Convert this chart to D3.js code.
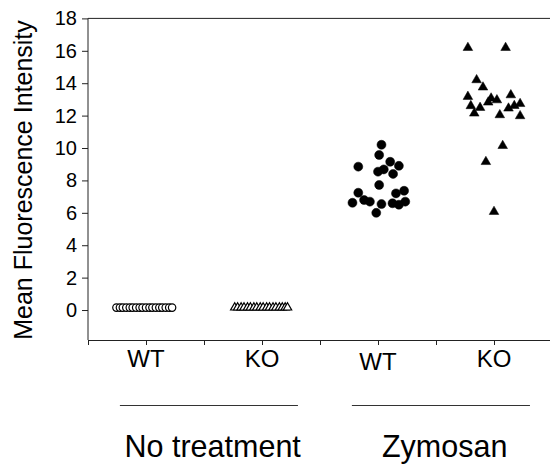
<!DOCTYPE html>
<html>
<head>
<meta charset="utf-8">
<script src="https://cdn.jsdelivr.net/npm/d3@7"></script>
<style>
  body { margin: 0; background: #fff; }
  svg text { font-family: Arial, 'Liberation Sans', Helvetica, sans-serif; fill: #000; }
</style>
</head>
<body>
<svg id="chart" width="550" height="464"></svg>
<script>
// Groups and the categories inside them (category index on the x axis)
var groups = ['No treatment', 'Zymosan'];
var categories = ['WT', 'KO', 'WT', 'KO'];
var categoryPos = [1, 3, 5, 7];
var yTicks = [0, 2, 4, 6, 8, 10, 12, 14, 16, 18];

// No treatment WT (open circles), value and horizontal jitter
var ntWtValues = [0.15, 0.15, 0.15, 0.15, 0.15, 0.15, 0.15, 0.15, 0.15, 0.15, 0.15, 0.15, 0.15, 0.15, 0.15, 0.15, 0.15, 0.15];
var ntWtJitter = [-0.51, -0.45, -0.40, -0.34, -0.28, -0.23, -0.17, -0.11, -0.06, 0.00, 0.06, 0.11, 0.17, 0.23, 0.28, 0.34, 0.40, 0.45];

// No treatment KO (open triangles)
var ntKoValues = [0.15, 0.15, 0.15, 0.15, 0.15, 0.15, 0.15, 0.15, 0.15, 0.15, 0.15, 0.15, 0.15, 0.15, 0.15, 0.15, 0.15, 0.15];
var ntKoJitter = [-0.47, -0.42, -0.36, -0.31, -0.25, -0.20, -0.14, -0.09, -0.03, 0.02, 0.08, 0.13, 0.19, 0.24, 0.30, 0.35, 0.40, 0.44];

// Zymosan WT (filled circles)
var zyWtValues = [10.2, 9.57, 8.85, 9.15, 8.9, 8.54, 8.68, 8.4, 7.72, 7.24, 7.36, 7.2, 6.62, 6.79, 6.69, 6.54, 6.59, 6.5, 6.69, 6.0];
var zyWtJitter = [0.06, 0.02, -0.34, 0.21, 0.36, 0.00, 0.10, 0.26, 0.02, -0.34, 0.45, 0.31, -0.44, -0.24, -0.14, 0.06, 0.25, 0.36, 0.47, -0.03];

// Zymosan KO (filled triangles)
var zyKoValues = [16.19, 16.19, 14.2, 13.75, 13.17, 12.6, 12.49, 12.14, 13.07, 12.82, 12.96, 13.27, 12.04, 12.45, 12.61, 12.73, 11.98, 10.14, 9.15, 6.07];
var zyKoJitter = [-0.45, 0.20, -0.30, -0.19, -0.45, -0.40, -0.24, -0.34, -0.05, -0.10, 0.05, 0.29, 0.10, 0.25, 0.35, 0.45, 0.45, 0.15, -0.14, 0.00];

var svg = d3.select('#chart');
var axisColor = '#222';

// Scales
var x = d3.scaleLinear().domain([0, 8]).range([88, 552]);
var y = d3.scaleLinear().domain([-1.85, 18]).range([340, 18.4]);

// Build point lists
function points(values, jitter, pos) {
	return values.map(function(v, i) { return {x: pos + jitter[i], y: v}; });
}
var series = [
	{pts: points(ntWtValues, ntWtJitter, categoryPos[0]), shape: 'circle', filled: false},
	{pts: points(ntKoValues, ntKoJitter, categoryPos[1]), shape: 'triangle', filled: false},
	{pts: points(zyWtValues, zyWtJitter, categoryPos[2]), shape: 'circle', filled: true},
	{pts: points(zyKoValues, zyKoJitter, categoryPos[3]), shape: 'triangle', filled: true}
];

// Left axis
var yAxis = svg.append('g')
	.attr('transform', 'translate(' + x(0) + ',0)')
	.call(d3.axisLeft(y).tickValues(yTicks).tickSize(6).tickPadding(5).tickSizeOuter(0));
yAxis.select('.domain').remove();
yAxis.selectAll('line').attr('stroke', axisColor);
yAxis.selectAll('text').style('font-size', '20px').attr('fill', '#000');

// Bottom axis
var xAxis = svg.append('g')
	.attr('transform', 'translate(0,' + y(-1.85) + ')')
	.call(d3.axisBottom(x).ticks(8).tickSize(5).tickSizeOuter(0).tickFormat(''));
xAxis.select('.domain').attr('stroke', axisColor);
xAxis.selectAll('line').attr('stroke', axisColor);

// Frame lines: left and top
svg.append('line')
	.attr('x1', x(0)).attr('x2', x(0))
	.attr('y1', y(18)).attr('y2', y(-1.85))
	.attr('stroke', axisColor);
svg.append('line')
	.attr('x1', x(0)).attr('x2', x(8))
	.attr('y1', y(18)).attr('y2', y(18))
	.attr('stroke', axisColor);

// Markers
var triangle = d3.symbol().type(d3.symbolTriangle);
series.forEach(function(s) {
	var g = svg.append('g');
	var fill = s.filled ? '#000' : '#fff';
	if (s.shape === 'circle') {
		g.selectAll('circle')
			.data(s.pts)
			.enter().append('circle')
			.attr('cx', function(d) { return x(d.x); })
			.attr('cy', function(d) { return y(d.y); })
			.attr('r', s.filled ? 4.5 : 3.7)
			.attr('fill', fill)
			.attr('stroke', '#000')
			.attr('stroke-width', s.filled ? 0.5 : 1.2);
	} else {
		g.selectAll('path')
			.data(s.pts)
			.enter().append('path')
			.attr('transform', function(d) { return 'translate(' + x(d.x) + ',' + y(d.y) + ')'; })
			.attr('d', triangle.size(s.filled ? 40 : 30)())
			.attr('fill', fill)
			.attr('stroke', '#000')
			.attr('stroke-width', s.filled ? 0.5 : 1.2);
	}
});

// Category labels under the axis
svg.selectAll('.catLabel')
	.data(categories)
	.enter().append('text')
	.attr('class', 'catLabel')
	.attr('x', function(d, i) { return x(categoryPos[i]); })
	.attr('y', function(d, i) { return i === 2 ? 370 : 367; })
	.attr('text-anchor', 'middle')
	.style('font-size', '24px')
	.text(function(d) { return d; });

// Group underlines and labels
groups.forEach(function(name, i) {
	var c = (categoryPos[i * 2] + categoryPos[i * 2 + 1]) / 2;
	svg.append('line')
		.attr('x1', x(c - 1.45)).attr('x2', x(c + 1.62))
		.attr('y1', 405.5).attr('y2', 405.5)
		.attr('stroke', '#333');
	svg.append('text')
		.attr('x', x(c + 0.15))
		.attr('y', 457)
		.attr('text-anchor', 'middle')
		.style('font-size', '30.5px')
		.text(name);
});

// Y axis title
svg.append('text')
	.attr('transform', 'translate(32,180) rotate(-90)')
	.attr('text-anchor', 'middle')
	.style('font-size', '25px')
	.text('Mean Fluorescence Intensity');
</script>
</body>
</html>
